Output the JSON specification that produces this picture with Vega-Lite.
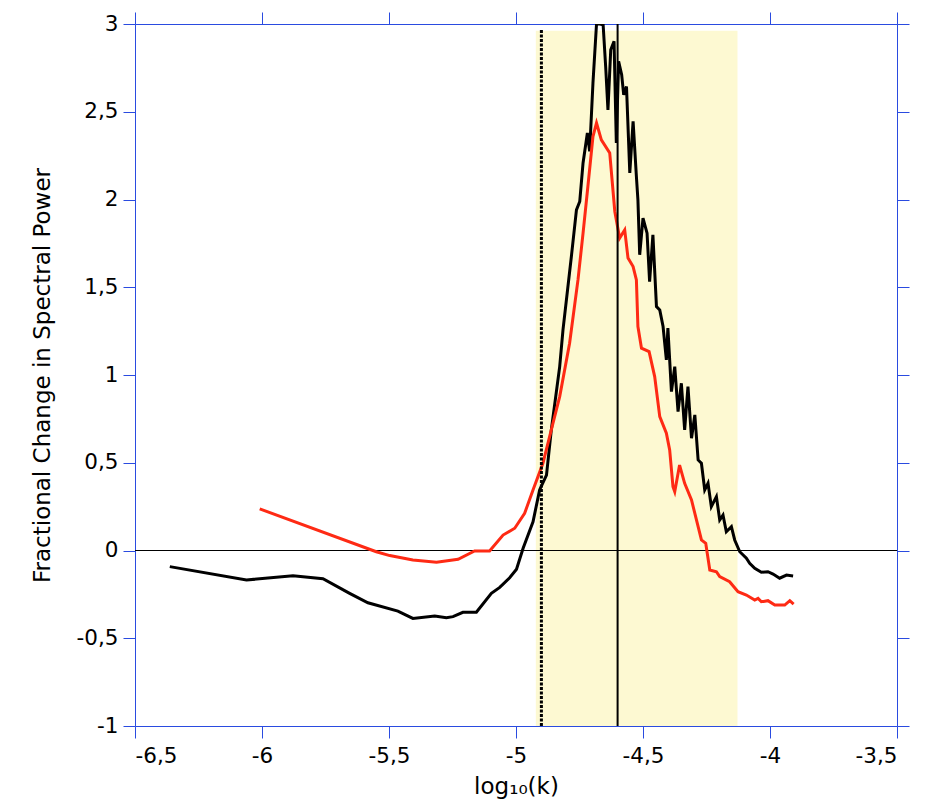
{
  "$schema": "https://vega.github.io/schema/vega-lite/v6.json",
  "width": 762,
  "height": 702,
  "autosize": {"type": "none"},
  "padding": {"left": 135, "top": 24, "right": 30, "bottom": 86},
  "background": "white",
  "config": {
    "view": {"stroke": null},
    "font": "DejaVu Sans",
    "axis": {
      "domainColor": "#2a4be0",
      "tickColor": "#2a4be0",
      "grid": false,
      "tickSize": 12,
      "labelFont": "DejaVu Sans",
      "labelFontSize": 21.5,
      "labelColor": "black",
      "titleFont": "DejaVu Sans",
      "titleFontSize": 23,
      "titleFontWeight": "normal",
      "titleColor": "black",
      "labelOverlap": false
    }
  },
  "datasets": {
    "curves": [
      {"x": -6.363, "y": -0.092, "series": "black"},
      {"x": -6.061, "y": -0.168, "series": "black"},
      {"x": -5.878, "y": -0.144, "series": "black"},
      {"x": -5.760, "y": -0.161, "series": "black"},
      {"x": -5.655, "y": -0.244, "series": "black"},
      {"x": -5.583, "y": -0.298, "series": "black"},
      {"x": -5.465, "y": -0.345, "series": "black"},
      {"x": -5.406, "y": -0.387, "series": "black"},
      {"x": -5.320, "y": -0.373, "series": "black"},
      {"x": -5.274, "y": -0.383, "series": "black"},
      {"x": -5.248, "y": -0.377, "series": "black"},
      {"x": -5.209, "y": -0.352, "series": "black"},
      {"x": -5.156, "y": -0.352, "series": "black"},
      {"x": -5.097, "y": -0.244, "series": "black"},
      {"x": -5.064, "y": -0.210, "series": "black"},
      {"x": -5.025, "y": -0.155, "series": "black"},
      {"x": -4.998, "y": -0.107, "series": "black"},
      {"x": -4.972, "y": 0.013, "series": "black"},
      {"x": -4.933, "y": 0.164, "series": "black"},
      {"x": -4.907, "y": 0.345, "series": "black"},
      {"x": -4.880, "y": 0.430, "series": "black"},
      {"x": -4.861, "y": 0.687, "series": "black"},
      {"x": -4.828, "y": 1.048, "series": "black"},
      {"x": -4.815, "y": 1.257, "series": "black"},
      {"x": -4.782, "y": 1.675, "series": "black"},
      {"x": -4.762, "y": 1.941, "series": "black"},
      {"x": -4.749, "y": 1.989, "series": "black"},
      {"x": -4.736, "y": 2.208, "series": "black"},
      {"x": -4.719, "y": 2.379, "series": "black"},
      {"x": -4.710, "y": 2.274, "series": "black"},
      {"x": -4.697, "y": 2.664, "series": "black"},
      {"x": -4.683, "y": 3.0, "series": "black"},
      {"x": -4.670, "y": 3.0, "series": "black"},
      {"x": -4.657, "y": 2.996, "series": "black"},
      {"x": -4.647, "y": 2.758, "series": "black"},
      {"x": -4.638, "y": 2.511, "series": "black"},
      {"x": -4.627, "y": 2.853, "series": "black"},
      {"x": -4.614, "y": 2.901, "series": "black"},
      {"x": -4.605, "y": 2.322, "series": "black"},
      {"x": -4.596, "y": 2.787, "series": "black"},
      {"x": -4.584, "y": 2.711, "series": "black"},
      {"x": -4.576, "y": 2.597, "series": "black"},
      {"x": -4.565, "y": 2.644, "series": "black"},
      {"x": -4.552, "y": 2.152, "series": "black"},
      {"x": -4.539, "y": 2.445, "series": "black"},
      {"x": -4.526, "y": 2.131, "series": "black"},
      {"x": -4.520, "y": 1.998, "series": "black"},
      {"x": -4.513, "y": 1.685, "series": "black"},
      {"x": -4.500, "y": 1.894, "series": "black"},
      {"x": -4.484, "y": 1.808, "series": "black"},
      {"x": -4.474, "y": 1.532, "series": "black"},
      {"x": -4.461, "y": 1.799, "series": "black"},
      {"x": -4.447, "y": 1.390, "series": "black"},
      {"x": -4.434, "y": 1.371, "series": "black"},
      {"x": -4.421, "y": 1.276, "series": "black"},
      {"x": -4.408, "y": 1.086, "series": "black"},
      {"x": -4.402, "y": 1.267, "series": "black"},
      {"x": -4.388, "y": 0.905, "series": "black"},
      {"x": -4.375, "y": 1.048, "series": "black"},
      {"x": -4.362, "y": 0.791, "series": "black"},
      {"x": -4.349, "y": 0.953, "series": "black"},
      {"x": -4.336, "y": 0.687, "series": "black"},
      {"x": -4.323, "y": 0.934, "series": "black"},
      {"x": -4.309, "y": 0.640, "series": "black"},
      {"x": -4.296, "y": 0.773, "series": "black"},
      {"x": -4.283, "y": 0.516, "series": "black"},
      {"x": -4.270, "y": 0.497, "series": "black"},
      {"x": -4.257, "y": 0.345, "series": "black"},
      {"x": -4.244, "y": 0.383, "series": "black"},
      {"x": -4.231, "y": 0.250, "series": "black"},
      {"x": -4.211, "y": 0.307, "series": "black"},
      {"x": -4.198, "y": 0.174, "series": "black"},
      {"x": -4.185, "y": 0.202, "series": "black"},
      {"x": -4.172, "y": 0.107, "series": "black"},
      {"x": -4.152, "y": 0.136, "series": "black"},
      {"x": -4.139, "y": 0.060, "series": "black"},
      {"x": -4.119, "y": -0.007, "series": "black"},
      {"x": -4.093, "y": -0.044, "series": "black"},
      {"x": -4.080, "y": -0.073, "series": "black"},
      {"x": -4.060, "y": -0.101, "series": "black"},
      {"x": -4.034, "y": -0.124, "series": "black"},
      {"x": -4.008, "y": -0.121, "series": "black"},
      {"x": -3.988, "y": -0.134, "series": "black"},
      {"x": -3.962, "y": -0.158, "series": "black"},
      {"x": -3.935, "y": -0.140, "series": "black"},
      {"x": -3.909, "y": -0.145, "series": "black"},
      {"x": -6.009, "y": 0.237, "series": "red"},
      {"x": -5.550, "y": -0.007, "series": "red"},
      {"x": -5.497, "y": -0.029, "series": "red"},
      {"x": -5.406, "y": -0.054, "series": "red"},
      {"x": -5.313, "y": -0.067, "series": "red"},
      {"x": -5.228, "y": -0.050, "series": "red"},
      {"x": -5.163, "y": -0.003, "series": "red"},
      {"x": -5.104, "y": -0.003, "series": "red"},
      {"x": -5.051, "y": 0.088, "series": "red"},
      {"x": -5.005, "y": 0.127, "series": "red"},
      {"x": -4.966, "y": 0.212, "series": "red"},
      {"x": -4.933, "y": 0.345, "series": "red"},
      {"x": -4.894, "y": 0.497, "series": "red"},
      {"x": -4.861, "y": 0.687, "series": "red"},
      {"x": -4.828, "y": 0.877, "series": "red"},
      {"x": -4.789, "y": 1.181, "series": "red"},
      {"x": -4.756, "y": 1.542, "series": "red"},
      {"x": -4.736, "y": 1.808, "series": "red"},
      {"x": -4.717, "y": 2.074, "series": "red"},
      {"x": -4.697, "y": 2.359, "series": "red"},
      {"x": -4.683, "y": 2.436, "series": "red"},
      {"x": -4.664, "y": 2.340, "series": "red"},
      {"x": -4.631, "y": 2.265, "series": "red"},
      {"x": -4.611, "y": 1.932, "series": "red"},
      {"x": -4.592, "y": 1.780, "series": "red"},
      {"x": -4.572, "y": 1.827, "series": "red"},
      {"x": -4.559, "y": 1.666, "series": "red"},
      {"x": -4.539, "y": 1.618, "series": "red"},
      {"x": -4.526, "y": 1.542, "series": "red"},
      {"x": -4.520, "y": 1.276, "series": "red"},
      {"x": -4.506, "y": 1.153, "series": "red"},
      {"x": -4.476, "y": 1.133, "series": "red"},
      {"x": -4.454, "y": 0.991, "series": "red"},
      {"x": -4.434, "y": 0.763, "series": "red"},
      {"x": -4.408, "y": 0.668, "series": "red"},
      {"x": -4.395, "y": 0.573, "series": "red"},
      {"x": -4.382, "y": 0.364, "series": "red"},
      {"x": -4.375, "y": 0.335, "series": "red"},
      {"x": -4.356, "y": 0.487, "series": "red"},
      {"x": -4.336, "y": 0.383, "series": "red"},
      {"x": -4.309, "y": 0.288, "series": "red"},
      {"x": -4.270, "y": 0.060, "series": "red"},
      {"x": -4.253, "y": 0.041, "series": "red"},
      {"x": -4.237, "y": -0.111, "series": "red"},
      {"x": -4.211, "y": -0.121, "series": "red"},
      {"x": -4.198, "y": -0.149, "series": "red"},
      {"x": -4.159, "y": -0.178, "series": "red"},
      {"x": -4.126, "y": -0.235, "series": "red"},
      {"x": -4.093, "y": -0.254, "series": "red"},
      {"x": -4.060, "y": -0.282, "series": "red"},
      {"x": -4.047, "y": -0.273, "series": "red"},
      {"x": -4.034, "y": -0.292, "series": "red"},
      {"x": -4.008, "y": -0.286, "series": "red"},
      {"x": -3.981, "y": -0.311, "series": "red"},
      {"x": -3.942, "y": -0.311, "series": "red"},
      {"x": -3.922, "y": -0.286, "series": "red"},
      {"x": -3.907, "y": -0.305, "series": "red"}
    ]
  },
  "resolve": {"axis": {"x": "independent", "y": "independent"}},
  "layer": [
    {
      "data": {"values": [{"x1": -4.922, "x2": -4.128, "y1": -1, "y2": 2.962}]},
      "mark": {"type": "rect", "color": "#fdf9d2"},
      "encoding": {
        "x": {
          "field": "x1", "type": "quantitative",
          "scale": {"domain": [-6.5, -3.5], "nice": false, "zero": false},
          "axis": {"orient": "top", "labels": false, "title": null, "values": [-6.5, -6, -5.5, -5, -4.5, -4, -3.5]}
        },
        "x2": {"field": "x2"},
        "y": {
          "field": "y1", "type": "quantitative",
          "scale": {"domain": [-1, 3], "nice": false, "zero": false},
          "axis": {"orient": "right", "labels": false, "title": null, "values": [-1, -0.5, 0, 0.5, 1, 1.5, 2, 2.5, 3]}
        },
        "y2": {"field": "y2"}
      }
    },
    {
      "data": {"values": [{"y": 0}]},
      "mark": {"type": "rule", "color": "black", "strokeWidth": 1},
      "encoding": {
        "y": {"field": "y", "type": "quantitative", "scale": {"domain": [-1, 3], "nice": false, "zero": false}, "axis": null}
      }
    },
    {
      "data": {"name": "curves"},
      "mark": {"type": "line", "strokeWidth": 3, "clip": true},
      "encoding": {
        "x": {
          "field": "x", "type": "quantitative",
          "scale": {"domain": [-6.5, -3.5], "nice": false, "zero": false},
          "axis": {
            "orient": "bottom",
            "values": [-6.5, -6, -5.5, -5, -4.5, -4, -3.5],
            "labelExpr": "replace(toString(datum.value), '.', ',')",
            "labelPadding": 7,
            "title": "log₁₀(k)",
            "titlePadding": 9
          }
        },
        "y": {
          "field": "y", "type": "quantitative",
          "scale": {"domain": [-1, 3], "nice": false, "zero": false},
          "axis": {
            "orient": "left",
            "values": [-1, -0.5, 0, 0.5, 1, 1.5, 2, 2.5, 3],
            "labelExpr": "replace(toString(datum.value), '.', ',')",
            "labelPadding": 5,
            "title": "Fractional Change in Spectral Power",
            "titlePadding": 22
          }
        },
        "color": {
          "field": "series", "type": "nominal",
          "scale": {"domain": ["black", "red"], "range": ["#000000", "#fe2a14"]},
          "legend": null
        }
      }
    },
    {
      "data": {"values": [{"x": -4.9, "y1": -1, "y2": 2.97}]},
      "mark": {"type": "rule", "color": "black", "strokeWidth": 3, "strokeDash": [3, 1.5]},
      "encoding": {
        "x": {"field": "x", "type": "quantitative", "scale": {"domain": [-6.5, -3.5], "nice": false, "zero": false}, "axis": null},
        "y": {"field": "y1", "type": "quantitative", "scale": {"domain": [-1, 3], "nice": false, "zero": false}, "axis": null},
        "y2": {"field": "y2"}
      }
    },
    {
      "data": {"values": [{"x": -4.6, "y1": -1, "y2": 3}]},
      "mark": {"type": "rule", "color": "black", "strokeWidth": 2},
      "encoding": {
        "x": {"field": "x", "type": "quantitative", "scale": {"domain": [-6.5, -3.5], "nice": false, "zero": false}, "axis": null},
        "y": {"field": "y1", "type": "quantitative", "scale": {"domain": [-1, 3], "nice": false, "zero": false}, "axis": null},
        "y2": {"field": "y2"}
      }
    }
  ]
}
